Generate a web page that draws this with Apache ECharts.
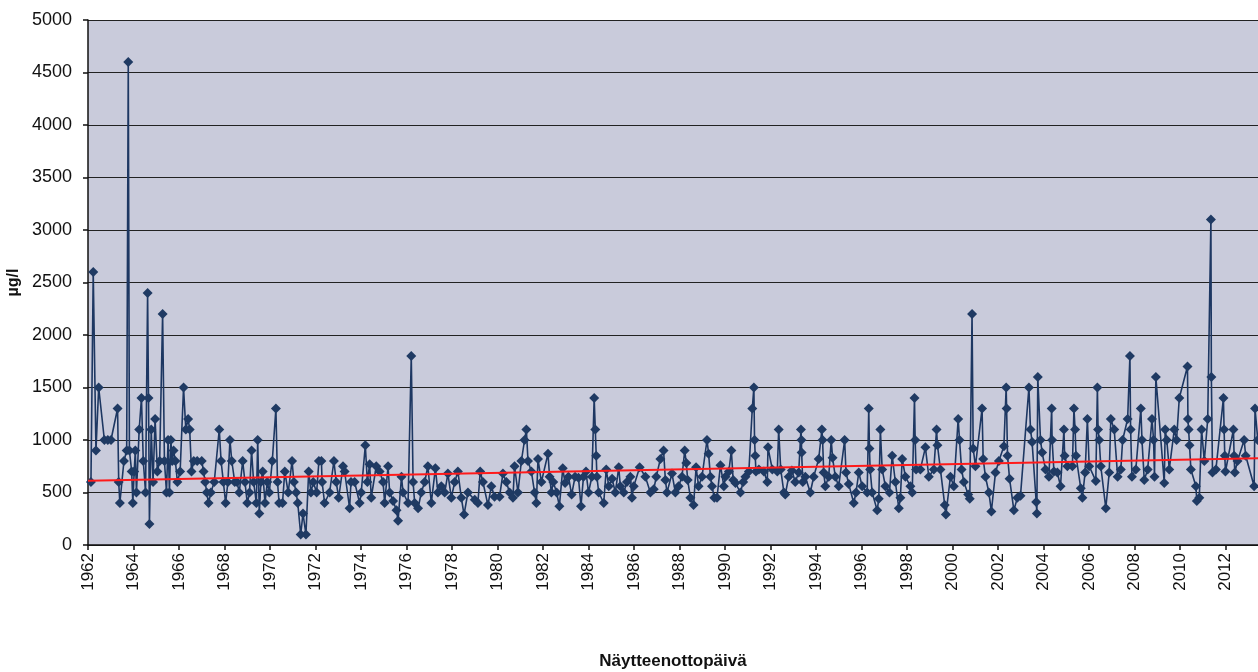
<!DOCTYPE html>
<html>
<head>
<meta charset="utf-8">
<script src="https://cdn.jsdelivr.net/npm/echarts@6/dist/echarts.min.js"></script>
<style>
html,body{margin:0;padding:0;background:#fff;}
#chart{width:1258px;height:672px;}
</style>
</head>
<body>
<div id="chart"></div>
<script>
// Sample date (decimal year) and concentration (µg/l)
var samples = [
[1962.13,600],[1962.23,2600],[1962.35,900],[1962.47,1500],[1962.72,1000],[1962.87,1000],[1963.01,1000],
[1963.30,1300],[1963.35,600],[1963.40,400],[1963.58,800],[1963.70,900],[1963.77,4600],[1963.82,900],
[1963.92,700],[1963.97,400],[1964.03,700],[1964.08,900],[1964.13,500],[1964.25,1100],[1964.35,1400],
[1964.43,800],[1964.53,500],[1964.62,2400],[1964.66,1400],[1964.70,200],[1964.78,1100],[1964.86,600],
[1964.95,1200],[1965.05,700],[1965.15,800],[1965.28,2200],[1965.36,800],[1965.45,500],[1965.52,1000],
[1965.58,500],[1965.64,1000],[1965.70,800],[1965.76,900],[1965.84,800],[1965.93,600],[1966.05,700],
[1966.20,1500],[1966.30,1100],[1966.40,1200],[1966.47,1100],[1966.55,700],[1966.65,800],[1966.80,800],
[1967.00,800],[1967.08,700],[1967.15,600],[1967.22,500],[1967.30,400],[1967.40,500],[1967.55,600],
[1967.77,1100],[1967.85,800],[1967.95,600],[1968.05,400],[1968.15,600],[1968.24,1000],[1968.32,800],
[1968.45,600],[1968.55,600],[1968.65,500],[1968.80,800],[1968.90,600],[1969.00,400],[1969.10,500],
[1969.19,900],[1969.28,600],[1969.40,400],[1969.46,1000],[1969.53,300],[1969.60,600],[1969.68,700],
[1969.78,400],[1969.88,600],[1969.97,500],[1970.10,800],[1970.26,1300],[1970.33,600],[1970.40,400],
[1970.55,400],[1970.65,700],[1970.80,500],[1970.97,800],[1971.05,600],[1971.15,500],[1971.22,400],
[1971.35,100],[1971.45,300],[1971.58,100],[1971.70,700],[1971.80,500],[1971.90,600],[1972.05,500],
[1972.15,800],[1972.26,800],[1972.29,600],[1972.40,400],[1972.62,500],[1972.81,800],[1972.91,600],
[1973.02,450],[1973.21,750],[1973.28,700],[1973.50,350],[1973.56,600],[1973.72,600],[1973.94,400],
[1974.01,500],[1974.19,950],[1974.28,600],[1974.38,770],[1974.45,450],[1974.67,750],[1974.82,700],
[1974.97,600],[1975.04,400],[1975.19,750],[1975.26,500],[1975.41,420],[1975.56,330],[1975.63,230],
[1975.78,650],[1975.85,500],[1976.07,400],[1976.21,1800],[1976.29,600],[1976.36,400],[1976.51,350],
[1976.65,500],[1976.80,600],[1976.94,750],[1977.09,400],[1977.27,730],[1977.38,500],[1977.53,560],
[1977.68,500],[1977.82,680],[1977.97,450],[1978.12,600],[1978.26,700],[1978.41,450],[1978.53,290],
[1978.70,500],[1979.00,430],[1979.14,400],[1979.24,700],[1979.36,600],[1979.58,380],[1979.73,560],
[1979.87,460],[1980.09,460],[1980.24,680],[1980.39,600],[1980.53,500],[1980.68,450],[1980.75,750],
[1980.90,500],[1981.05,800],[1981.19,1000],[1981.27,1100],[1981.34,800],[1981.49,700],[1981.63,500],
[1981.71,400],[1981.78,820],[1981.93,600],[1982.22,870],[1982.29,650],[1982.37,500],[1982.45,600],
[1982.60,500],[1982.72,370],[1982.87,730],[1982.97,590],[1983.12,650],[1983.26,480],[1983.41,650],
[1983.56,640],[1983.67,370],[1983.78,650],[1983.89,700],[1984.00,500],[1984.15,650],[1984.25,1400],
[1984.30,1100],[1984.34,850],[1984.37,650],[1984.45,500],[1984.67,400],[1984.78,720],[1984.89,560],
[1985.04,630],[1985.18,500],[1985.33,740],[1985.40,560],[1985.55,500],[1985.69,600],[1985.84,650],
[1985.91,450],[1985.99,560],[1986.25,740],[1986.50,650],[1986.72,500],[1986.87,530],[1986.98,650],
[1987.16,820],[1987.30,900],[1987.38,620],[1987.45,500],[1987.67,680],[1987.82,500],[1987.96,560],
[1988.11,650],[1988.23,900],[1988.30,780],[1988.36,620],[1988.48,450],[1988.62,380],[1988.73,740],
[1988.84,560],[1988.99,650],[1989.21,1000],[1989.28,870],[1989.36,650],[1989.43,560],[1989.53,450],
[1989.65,450],[1989.80,760],[1989.95,560],[1990.02,650],[1990.17,700],[1990.28,900],[1990.36,620],
[1990.46,590],[1990.68,500],[1990.80,600],[1990.90,650],[1991.05,700],[1991.20,1300],[1991.27,1500],
[1991.30,1000],[1991.33,850],[1991.36,700],[1991.49,720],[1991.71,700],[1991.86,600],[1991.89,930],
[1992.08,720],[1992.30,700],[1992.36,1100],[1992.45,720],[1992.59,500],[1992.65,480],[1992.80,650],
[1992.94,710],[1993.09,600],[1993.24,690],[1993.34,1100],[1993.36,1000],[1993.37,880],[1993.42,600],
[1993.53,650],[1993.75,500],[1993.90,650],[1994.12,820],[1994.26,1100],[1994.29,1000],[1994.34,690],
[1994.41,560],[1994.56,650],[1994.67,1000],[1994.73,830],[1994.85,650],[1995.00,560],[1995.26,1000],
[1995.32,690],[1995.44,580],[1995.66,400],[1995.76,500],[1995.88,690],[1996.03,560],[1996.25,500],
[1996.32,1300],[1996.35,920],[1996.38,720],[1996.47,500],[1996.69,330],[1996.76,440],[1996.83,1100],
[1996.91,720],[1997.05,560],[1997.23,500],[1997.35,850],[1997.49,600],[1997.64,350],[1997.71,450],
[1997.79,820],[1997.93,650],[1998.15,560],[1998.23,500],[1998.33,1400],[1998.36,1000],[1998.40,720],
[1998.59,720],[1998.81,930],[1998.96,650],[1999.18,720],[1999.30,1100],[1999.34,950],[1999.47,720],
[1999.66,380],[1999.71,290],[1999.91,650],[2000.06,560],[2000.25,1200],[2000.31,1000],[2000.40,720],
[2000.50,600],[2000.69,480],[2000.76,440],[2000.86,2200],[2000.91,920],[2001.01,750],[2001.30,1300],
[2001.35,820],[2001.45,650],[2001.60,500],[2001.71,320],[2001.89,690],[2002.04,800],[2002.26,940],
[2002.36,1500],[2002.38,1300],[2002.42,850],[2002.51,630],[2002.70,330],[2002.85,450],[2002.99,470],
[2003.36,1500],[2003.43,1100],[2003.50,980],[2003.68,410],[2003.71,300],[2003.75,1600],[2003.87,1000],
[2003.94,880],[2004.09,720],[2004.24,650],[2004.36,1300],[2004.38,1000],[2004.46,700],[2004.61,690],
[2004.75,560],[2004.90,1100],[2004.93,850],[2005.05,750],[2005.27,750],[2005.34,1300],[2005.39,1100],
[2005.43,850],[2005.64,540],[2005.71,450],[2005.83,690],[2005.93,1200],[2006.01,750],[2006.30,610],
[2006.37,1500],[2006.40,1100],[2006.45,1000],[2006.52,750],[2006.74,350],[2006.89,690],[2006.96,1200],
[2007.11,1100],[2007.26,650],[2007.40,720],[2007.48,1000],[2007.70,1200],[2007.80,1800],[2007.83,1100],
[2007.89,650],[2008.06,720],[2008.28,1300],[2008.33,1000],[2008.43,620],[2008.58,720],[2008.77,1200],
[2008.84,1000],[2008.88,650],[2008.94,1600],[2009.31,590],[2009.35,1100],[2009.42,1000],[2009.53,720],
[2009.75,1100],[2009.85,1000],[2009.97,1400],[2010.33,1700],[2010.35,1200],[2010.38,1100],[2010.42,950],
[2010.48,720],[2010.70,560],[2010.74,420],[2010.85,450],[2010.95,1100],[2011.07,800],[2011.22,1200],
[2011.36,3100],[2011.38,1600],[2011.43,690],[2011.58,720],[2011.91,1400],[2011.94,1100],[2011.97,850],
[2012.00,700],[2012.35,1100],[2012.38,850],[2012.41,690],[2012.53,800],[2012.82,1000],[2012.89,850],
[2013.26,560],[2013.30,1300],[2013.42,1000]
];
// Linear trend line end points
var trendDates = [1962.0, 2013.43];
var trendValues = [612, 826];
// Axis settings
var xMin = 1962, xMax = 2013.43, xStep = 2;
var yMin = 0, yMax = 5000, yStep = 500;

var chart = echarts.init(document.getElementById('chart'));
var font = '"Liberation Sans", Arial, sans-serif';
chart.setOption({
  animation: false,
  backgroundColor: '#ffffff',
  grid: {left: 88, top: 20, right: 0, bottom: 127, show: true, backgroundColor: '#c9cbdb', borderWidth: 0,
         containLabel: false, outerBoundsMode: 'none'},
  xAxis: {
    type: 'value', min: xMin, max: xMax, interval: xStep,
    name: 'Näytteenottopäivä', nameLocation: 'middle', nameGap: 108, nameMoveOverlap: false,
    nameTextStyle: {fontFamily: font, fontSize: 17, fontWeight: 'bold', color: '#111'},
    axisLine: {show: true, onZero: false, lineStyle: {color: '#111', width: 1.5}},
    axisTick: {show: true, length: 5, lineStyle: {color: '#111', width: 1.5}},
    axisLabel: {rotate: 90, fontFamily: font, fontSize: 17, color: '#111', margin: 8, showMaxLabel: false,
      formatter: function (v) { return String(v); }},
    splitLine: {show: false}
  },
  yAxis: {
    type: 'value', min: yMin, max: yMax, interval: yStep,
    name: 'µg/l', nameLocation: 'middle', nameGap: 66, nameRotate: 90, nameMoveOverlap: false,
    nameTextStyle: {fontFamily: font, fontSize: 16, fontWeight: 'bold', color: '#111'},
    axisLine: {show: true, lineStyle: {color: '#111', width: 1.5}},
    axisTick: {show: true, length: 5, lineStyle: {color: '#111', width: 1.5}},
    axisLabel: {fontFamily: font, fontSize: 18, color: '#111', margin: 16,
      formatter: function (v) { return String(v); }},
    splitLine: {show: true, lineStyle: {color: '#222', width: 1.2}}
  },
  series: [
    {
      type: 'line', data: samples, symbol: 'diamond', symbolSize: 10, showSymbol: true,
      lineStyle: {color: '#1d3762', width: 1.6},
      itemStyle: {color: '#1f3a63', borderWidth: 0},
      clip: true, z: 2
    },
    {
      type: 'line', data: trendDates.map(function (d, i) { return [d, trendValues[i]]; }),
      symbol: 'none', lineStyle: {color: '#ff1a1a', width: 2}, z: 3
    }
  ]
});
</script>
</body>
</html>
